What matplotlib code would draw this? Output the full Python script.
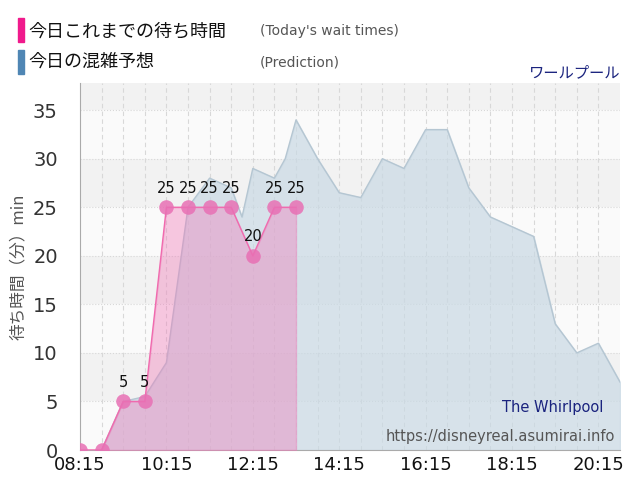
import matplotlib.pyplot as plt
import numpy as np

plt.rcParams['font.family'] = ['Noto Sans CJK JP', 'DejaVu Sans']

# minutes since 08:15
wait_minutes = [0, 30, 60, 90, 120, 150, 180, 210, 240, 270, 300]
wait_values = [0, 0, 5, 5, 25, 25, 25, 25, 20, 25, 25]

pred_minutes = [30, 60, 90, 120, 150, 180, 210, 225, 240, 270, 285, 300, 330, 360, 390,
                420, 450, 480, 510, 540, 570, 600, 630, 660, 690, 720, 750]
pred_values = [0, 5, 5.5, 9, 25, 28, 27, 24, 29, 28, 30, 34, 30, 26.5, 26, 30,
               29, 33, 33, 27, 24, 23, 22, 13, 10, 11, 7]

tick_minutes = [0, 120, 240, 360, 480, 600, 720]
tick_labels = ["08:15", "10:15", "12:15", "14:15", "16:15", "18:15", "20:15"]

fig = plt.figure(figsize=(6.4, 5.0), dpi=100)
ax = fig.add_axes([80 / 640, 50 / 500, 540 / 640, 367 / 500])

xmax = 750
ax.set_xlim(0, xmax)
ax.set_ylim(0, 37.8)

for i, lo in enumerate(range(0, 40, 5)):
    ax.axhspan(lo, lo + 5, color="#f2f2f2" if i % 2 else "#fafafa", zorder=0, lw=0)
for y in range(5, 40, 5):
    ax.axhline(y, color="#d8d8d8", lw=0.8, ls=":", zorder=1)
for x in range(30, xmax, 30):
    ax.axvline(x, color="#d8d8d8", lw=0.8, ls=(0, (4, 3)), zorder=1)

ax.fill_between(pred_minutes, pred_values, color="#c9d9e4", alpha=0.7, zorder=2)
ax.plot(pred_minutes, pred_values, color="#b5c6d2", lw=1, zorder=2)

ax.fill_between(wait_minutes, wait_values, color="#f07ab8", alpha=0.4, zorder=3)
ax.plot(wait_minutes, wait_values, color="#f06aae", lw=1, zorder=4)
ax.scatter(wait_minutes, wait_values, s=110, color="#e870b4", alpha=0.85, zorder=5, lw=0)
for m, v in zip(wait_minutes, wait_values):
    if v > 0:
        ax.text(m, v + 1.2, str(v), ha="center", va="bottom", fontsize=10.5,
                color="#111111", zorder=6, family="DejaVu Sans")

ax.set_xticks(tick_minutes)
ax.set_xticklabels(tick_labels, fontsize=13, color="#111111", family="DejaVu Sans")
ax.set_yticks(range(0, 40, 5))
ax.set_yticklabels([str(v) for v in range(0, 40, 5)], family="DejaVu Sans")
ax.tick_params(axis="y", labelsize=14, colors="#333333", length=0, pad=16)
ax.tick_params(axis="x", length=0, pad=4)
for s in ["top", "right"]:
    ax.spines[s].set_visible(False)
ax.spines["left"].set_color("#aaaaaa")
ax.spines["bottom"].set_color("#aaaaaa")
ax.set_ylabel("待ち時間（分）min", fontsize=12, color="#555555", labelpad=4)

ax.text(1, 1.005, "ワールプール", transform=ax.transAxes, ha="right", va="bottom",
        fontsize=11, color="#1a237e")
ax.text(0.97, 0.095, "The Whirlpool", transform=ax.transAxes, ha="right", va="bottom",
        fontsize=10.5, color="#1a237e", family="DejaVu Sans")
ax.text(0.99, 0.015, "https://disneyreal.asumirai.info", transform=ax.transAxes,
        ha="right", va="bottom", fontsize=10.5, color="#555555", family="DejaVu Sans")

fig.patches.append(plt.Rectangle((18 / 640, 1 - 42 / 500), 6 / 640, 24 / 500,
                                 transform=fig.transFigure, color="#f01a8c"))
fig.patches.append(plt.Rectangle((18 / 640, 1 - 74 / 500), 6 / 640, 24 / 500,
                                 transform=fig.transFigure, color="#4f86b4"))
fig.text(28 / 640, 1 - 31 / 500, "今日これまでの待ち時間", fontsize=13, va="center", color="#111111")
fig.text(28 / 640, 1 - 62 / 500, "今日の混雑予想", fontsize=13, va="center", color="#111111")
fig.text(260 / 640, 1 - 31 / 500, "(Today's wait times)", fontsize=10, va="center",
         color="#555555", family="DejaVu Sans")
fig.text(260 / 640, 1 - 62 / 500, "(Prediction)", fontsize=10, va="center",
         color="#555555", family="DejaVu Sans")

fig.savefig("out.png", dpi=100)
